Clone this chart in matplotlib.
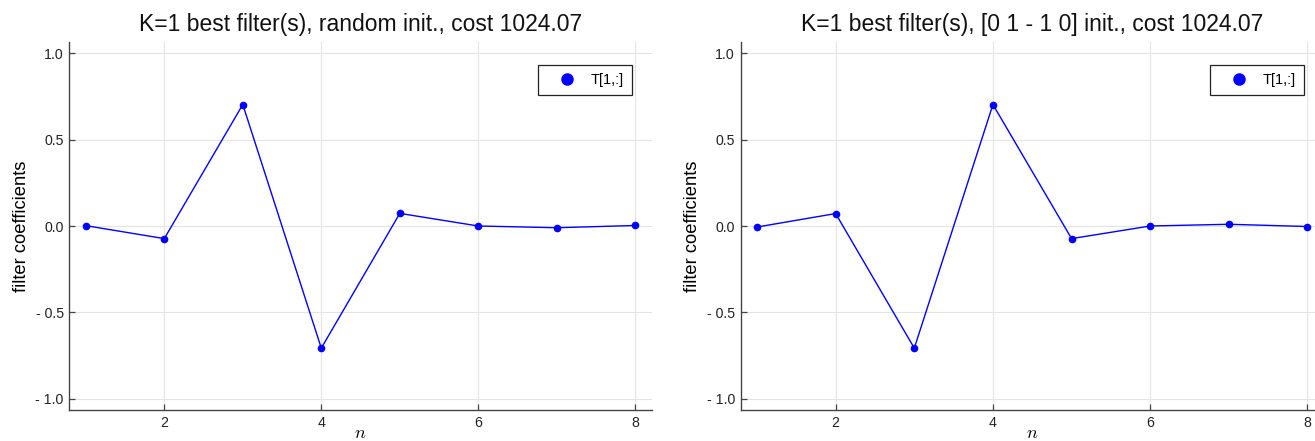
import numpy as np
import matplotlib
matplotlib.use('Agg')
import matplotlib.pyplot as plt
from matplotlib.lines import Line2D

plt.rcParams['font.family'] = ['Liberation Sans', 'DejaVu Sans']
plt.rcParams['mathtext.fontset'] = 'cm'

# filter taps, one row per initialisation
n = np.arange(1, 9)
taps_random = [0.002, -0.073, 0.703, -0.707, 0.073, 0.0, -0.010, 0.003]
taps_haar = [-0.006, 0.072, -0.707, 0.703, -0.073, 0.0, 0.010, -0.003]
titles = ['K=1 best filter(s), random init., cost 1024.07',
          'K=1 best filter(s), [0 1 - 1 0] init., cost 1024.07']
yticks = [-1.0, -0.5, 0.0, 0.5, 1.0]
yticklabels = ['- 1.0', '- 0.5', '0.0', '0.5', '1.0']
xticks = [2, 4, 6, 8]

fig = plt.figure(figsize=(13.15, 4.41), dpi=100)
W, H = 1315, 441
boxes = [(69.3, 651.8), (740.5, 1324.0)]
top, bottom = 42, 410

for (x0, x1), taps, title in zip(boxes, [taps_random, taps_haar], titles):
    ax = fig.add_axes([x0 / W, 1 - bottom / H, (x1 - x0) / W, (bottom - top) / H])
    ax.plot(n, taps, color='blue', lw=1.0, marker='o', ms=4.5,
            mec='blue', mfc='blue', zorder=3, clip_on=False)
    ax.set_xlim(0.79, 8.21)
    ax.set_ylim(-1.065, 1.065)
    ax.set_xticks(xticks)
    ax.set_yticks(yticks)
    ax.set_yticklabels(yticklabels)
    ax.grid(True, color='#e4e4e4', lw=0.8)
    ax.set_axisbelow(True)
    for s in ['top', 'right']:
        ax.spines[s].set_visible(False)
    for s in ['left', 'bottom']:
        ax.spines[s].set_color('#444444')
        ax.spines[s].set_linewidth(1.0)
    ax.tick_params(direction='in', length=4, width=0.9, color='#444444',
                   labelsize=10.2, labelcolor='#222222', pad=4)
    ax.set_title(title, fontsize=16.5, pad=8, color='#111111')
    ax.set_ylabel('filter coefficients', fontsize=13.2, labelpad=4)
    ax.set_xlabel(r'$n$', fontsize=13, labelpad=-3)
    handle = Line2D([], [], ls='none', marker='o', ms=8, color='blue')
    leg = ax.legend([handle], ['T[1,:]'], loc='upper right',
                    bbox_to_anchor=(0.966, 0.9375), fontsize=10.5, fancybox=False,
                    framealpha=1, edgecolor='#222222', borderpad=0.55,
                    handletextpad=0.2, handlelength=2.9, borderaxespad=0)
    leg.get_frame().set_linewidth(0.9)

fig.savefig('out.png', dpi=100)
